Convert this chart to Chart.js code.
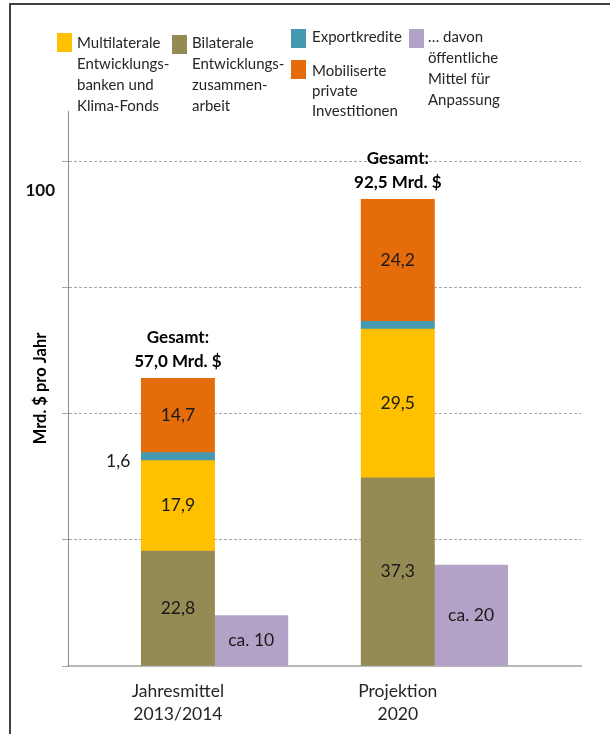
<!DOCTYPE html>
<html lang="de">
<head>
<meta charset="utf-8">
<title>Klimafinanzierung</title>
<script src="https://cdn.jsdelivr.net/npm/chart.js@4.4.1/dist/chart.umd.min.js"></script>
<style>
  html, body { margin: 0; padding: 0; background: #fff; }
  #wrap { position: relative; width: 610px; height: 734px; overflow: hidden; font-family: Lato, 'Open Sans', sans-serif; color: #262626; }
  #frame { position: absolute; left: 9px; top: 3px; right: -10px; bottom: -10px; border-left: 2px solid #404040; border-top: 2px solid #404040; pointer-events: none; }
  canvas { position: absolute; left: 0; top: 0; }
  .key { position: absolute; width: 15px; height: 19px; }
  .txt { position: absolute; font-size: 15px; line-height: 21px; white-space: nowrap; }
</style>
</head>
<body>
<div id="wrap">
  <canvas id="chart" width="610" height="734"></canvas>
  <div id="legend"></div>
  <div id="frame"></div>
</div>
<script>
// Kategorien: Stapel auf 1 und 4, Anpassungsbalken direkt daneben auf 2 und 5
const categories = ['', ['Jahresmittel', '2013/2014'], '', '', ['Projektion', '2020'], '', ''];

// Mrd. $ pro Jahr
const bilateral        = [null, 22.8, null, null, 37.3, null, null];
const multilateral     = [null, 17.9, null, null, 29.5, null, null];
const exportCredits    = [null, 1.6, null, null, 1.5, null, null];
const privateMobilised = [null, 14.7, null, null, 24.2, null, null];
const adaptation       = [null, null, 10, null, null, 20, null];

const yTicks = [0, 25, 50, 75, 100];
const yMax = 110;

const colors = {
  multilateral: '#FFC000',
  bilateral: '#948A54',
  exportCredits: '#4599B0',
  privateMobilised: '#E46C0A',
  adaptation: '#B3A2C7'
};

function fmt(v) {
  return v.toFixed(1).replace('.', ',');
}

// Legende als HTML-Block über dem Diagramm
const legendItems = [
  { color: colors.multilateral, box: [57, 33], text: [77, 31.5], lines: ['Multilaterale', 'Entwicklungs-', 'banken und', 'Klima-Fonds'] },
  { color: colors.bilateral, box: [172, 35], text: [192, 31.5], lines: ['Bilaterale', 'Entwicklungs-', 'zusammen-', 'arbeit'] },
  { color: colors.exportCredits, box: [291, 29], text: [312, 25.5], lines: ['Exportkredite'] },
  { color: colors.privateMobilised, box: [291, 60], text: [312, 59.5], lines: ['Mobiliserte', 'private', 'Investitionen'], lh: 20 },
  { color: colors.adaptation, box: [409, 29], text: [428, 25.5], lines: ['… davon', 'öffentliche', 'Mittel für', 'Anpassung'] }
];

const legendEl = document.getElementById('legend');
legendItems.forEach(item => {
  const box = document.createElement('div');
  box.className = 'key';
  box.style.left = item.box[0] + 'px';
  box.style.top = item.box[1] + 'px';
  box.style.background = item.color;
  legendEl.appendChild(box);

  const txt = document.createElement('div');
  txt.className = 'txt';
  txt.style.left = item.text[0] + 'px';
  txt.style.top = item.text[1] + 'px';
  if (item.lh) txt.style.lineHeight = item.lh + 'px';
  txt.innerHTML = item.lines.join('<br>');
  legendEl.appendChild(txt);
});

// Werte in die Segmente schreiben, Summen über die Stapel
const barLabels = {
  id: 'barLabels',
  afterDatasetsDraw(chart) {
    const ctx = chart.ctx;
    ctx.save();
    ctx.fillStyle = '#1a1a1a';
    ctx.textBaseline = 'middle';
    ctx.font = '17.5px Lato';

    chart.data.datasets.forEach((ds, di) => {
      const meta = chart.getDatasetMeta(di);
      meta.data.forEach((bar, i) => {
        const v = ds.data[i];
        if (v == null) return;
        const midY = (bar.y + bar.base) / 2;
        if (ds.labelMode === 'left') {
          if (!ds.labelAt.includes(i)) return;
          ctx.textAlign = 'right';
          ctx.fillText(fmt(v), bar.x - bar.width / 2 - 11, midY + 5);
        } else if (ds.labelMode === 'approx') {
          ctx.textAlign = 'center';
          ctx.fillText('ca. ' + v, bar.x, midY);
        } else {
          ctx.textAlign = 'center';
          ctx.fillText(fmt(v), bar.x, midY);
        }
      });
    });

    // Gesamtsumme je Stapel
    const yScale = chart.scales.y;
    const xScale = chart.scales.x;
    ctx.font = 'bold 17px Lato';
    ctx.textAlign = 'center';
    ctx.fillStyle = '#000';
    categories.forEach((c, i) => {
      const parts = [bilateral[i], multilateral[i], exportCredits[i], privateMobilised[i]];
      if (parts.every(p => p == null)) return;
      const total = parts.reduce((s, p) => s + (p || 0), 0);
      const x = xScale.getPixelForValue(i);
      const top = yScale.getPixelForValue(total);
      ctx.fillText('Gesamt:', x, top - 41);
      ctx.fillText(fmt(total) + ' Mrd. $', x, top - 17);
    });
    ctx.restore();
  }
};

new Chart(document.getElementById('chart'), {
  type: 'bar',
  data: {
    labels: categories,
    datasets: [
      { label: 'Bilaterale Entwicklungszusammenarbeit', data: bilateral, backgroundColor: colors.bilateral },
      { label: 'Multilaterale Entwicklungsbanken und Klima-Fonds', data: multilateral, backgroundColor: colors.multilateral },
      { label: 'Exportkredite', data: exportCredits, backgroundColor: colors.exportCredits, labelMode: 'left', labelAt: [1] },
      { label: 'Mobiliserte private Investitionen', data: privateMobilised, backgroundColor: colors.privateMobilised },
      { label: '… davon öffentliche Mittel für Anpassung', data: adaptation, backgroundColor: colors.adaptation, labelMode: 'approx' }
    ]
  },
  options: {
    responsive: false,
    animation: false,
    devicePixelRatio: 1,
    categoryPercentage: 1,
    barPercentage: 1,
    layout: { padding: { left: 10, top: 111, right: 29, bottom: 0 } },
    plugins: {
      legend: { display: false },
      tooltip: { enabled: false }
    },
    scales: {
      x: {
        stacked: true,
        grid: { display: false, drawTicks: false },
        border: { display: true, color: '#b8b8b8', width: 2 },
        ticks: {
          color: '#262626',
          font: { family: 'Lato', size: 17.5, lineHeight: '23px' },
          padding: 14,
          maxRotation: 0,
          autoSkip: false
        },
        afterFit(scale) { scale.height = 68; }
      },
      y: {
        stacked: true,
        min: 0,
        max: yMax,
        afterBuildTicks(scale) {
          scale.ticks = yTicks.map(v => ({ value: v }));
        },
        grid: {
          color: ctx => (ctx.tick && ctx.tick.value === 0 ? 'rgba(0,0,0,0)' : '#a6a6a6'),
          tickColor: '#a6a6a6',
          tickLength: 6,
          lineWidth: 1
        },
        border: {
          display: true,
          color: '#8c8c8c',
          width: 1,
          dash: ctx => (ctx.tick ? [3, 2] : [])
        },
        ticks: {
          color: '#111',
          font: { family: 'Lato', size: 17, weight: 'bold' },
          padding: 7,
          labelOffset: 29,
          callback: v => (v === 100 ? '100' : '')
        },
        title: {
          display: true,
          text: 'Mrd. $ pro Jahr',
          color: '#000',
          font: { family: 'Lato', size: 16.5, weight: 'bold', lineHeight: 1.2 },
          padding: { top: 21, bottom: 0 }
        },
        afterFit(scale) { scale.width = 58; }
      }
    }
  },
  plugins: [barLabels]
});
</script>
</body>
</html>
